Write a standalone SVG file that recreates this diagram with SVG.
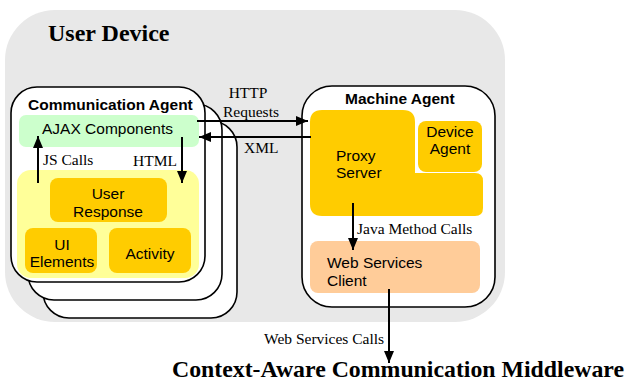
<svg xmlns="http://www.w3.org/2000/svg" width="628" height="381" viewBox="0 0 628 381">
<defs>
<style>
.box{fill:#fff;stroke:#000;stroke-width:1.6}
.sans{font-family:"Liberation Sans",Arial,sans-serif;font-size:15.5px;fill:#000}
.bold{font-family:"Liberation Sans",Arial,sans-serif;font-size:15.5px;font-weight:bold;fill:#000}
.serif{font-family:"Liberation Serif","Times New Roman",serif;font-size:15.5px;fill:#000}
.title{font-family:"Liberation Serif","Times New Roman",serif;font-weight:bold;fill:#000}
.gold{fill:#FFCC00}
.line{stroke:#000;stroke-width:2;fill:none}
</style>
<marker id="ah" viewBox="0 0 12 10" refX="12" refY="5" markerWidth="12" markerHeight="10" markerUnits="userSpaceOnUse" orient="auto">
<path d="M0,0 L12,5 L0,10 Z" fill="#000"/>
</marker>
</defs>
<g id="user-device">
<rect x="5" y="10" width="500" height="312" rx="50" fill="#E8E8E8"/>
<text class="title" x="48" y="41" font-size="24">User Device</text>
</g>
<g id="communication-agent">
<rect class="box" x="43" y="121" width="194" height="197" rx="26"/>
<rect class="box" x="28" y="104" width="194" height="196" rx="26"/>
<rect class="box" x="11" y="87" width="194" height="195" rx="26"/>
<text class="bold" x="28" y="110">Communication Agent</text>
</g>
<g id="ajax-components">
<rect x="19" y="115" width="180" height="32" rx="7" fill="#CCFFCC"/>
<text class="sans" x="42" y="134">AJAX Components</text>
</g>
<g id="ui-area">
<rect x="17" y="170" width="182" height="108" rx="14" fill="#FFFF99"/>
</g>
<g id="user-response">
<rect class="gold" x="50" y="178" width="117" height="44" rx="8"/>
<text class="sans" x="108" y="199" text-anchor="middle">User</text>
<text class="sans" x="108" y="217" text-anchor="middle">Response</text>
</g>
<g id="ui-elements">
<rect class="gold" x="25" y="228" width="72" height="45" rx="8"/>
<text class="sans" x="62" y="250" text-anchor="middle">UI</text>
<text class="sans" x="62" y="267" text-anchor="middle">Elements</text>
</g>
<g id="activity">
<rect class="gold" x="109" y="228" width="82" height="45" rx="8"/>
<text class="sans" x="150" y="259" text-anchor="middle">Activity</text>
</g>
<g id="machine-agent">
<rect class="box" x="302" y="86" width="193" height="221" rx="30"/>
<text class="bold" x="345" y="104">Machine Agent</text>
</g>
<g id="proxy-server">
<path class="gold" d="M322,110 H403 Q415,110 415,122 V173 H475 Q483,173 483,181 V208 Q483,216 475,216 H322 Q310,216 310,204 V122 Q310,110 322,110 Z"/>
<text class="sans" x="336" y="161">Proxy</text>
<text class="sans" x="336" y="178">Server</text>
</g>
<g id="device-agent">
<rect class="gold" x="418" y="121" width="64" height="51" rx="8"/>
<text class="sans" x="450" y="137" text-anchor="middle" font-size="15">Device</text>
<text class="sans" x="450" y="154" text-anchor="middle" font-size="15">Agent</text>
</g>
<g id="web-services-client">
<rect x="310" y="241" width="170" height="52" rx="8" fill="#FFCC99"/>
<text class="sans" x="327" y="268">Web Services</text>
<text class="sans" x="327" y="286">Client</text>
</g>
<g id="middleware">
<text class="title" x="398" y="377" font-size="23.8" text-anchor="middle">Context-Aware Communication Middleware</text>
</g>
<g id="connectors">
<line class="line" x1="38" y1="183" x2="38" y2="136" marker-end="url(#ah)"/>
<text class="serif" x="43" y="165">JS Calls</text>
<line class="line" x1="182" y1="137" x2="182" y2="183" marker-end="url(#ah)"/>
<text class="serif" x="133" y="166">HTML</text>
<line class="line" x1="197" y1="121" x2="308" y2="121" marker-end="url(#ah)"/>
<text class="serif" x="248" y="98" text-anchor="middle">HTTP</text>
<text class="serif" x="251" y="117" text-anchor="middle">Requests</text>
<line class="line" x1="311" y1="137" x2="199" y2="137" marker-end="url(#ah)"/>
<text class="serif" x="244" y="153">XML</text>
<line class="line" x1="353" y1="203" x2="353" y2="250" marker-end="url(#ah)"/>
<text class="serif" x="357" y="234">Java Method Calls</text>
<line class="line" x1="389" y1="289" x2="389" y2="363" marker-end="url(#ah)"/>
<text class="serif" x="264" y="344">Web Services Calls</text>
</g>
</svg>
